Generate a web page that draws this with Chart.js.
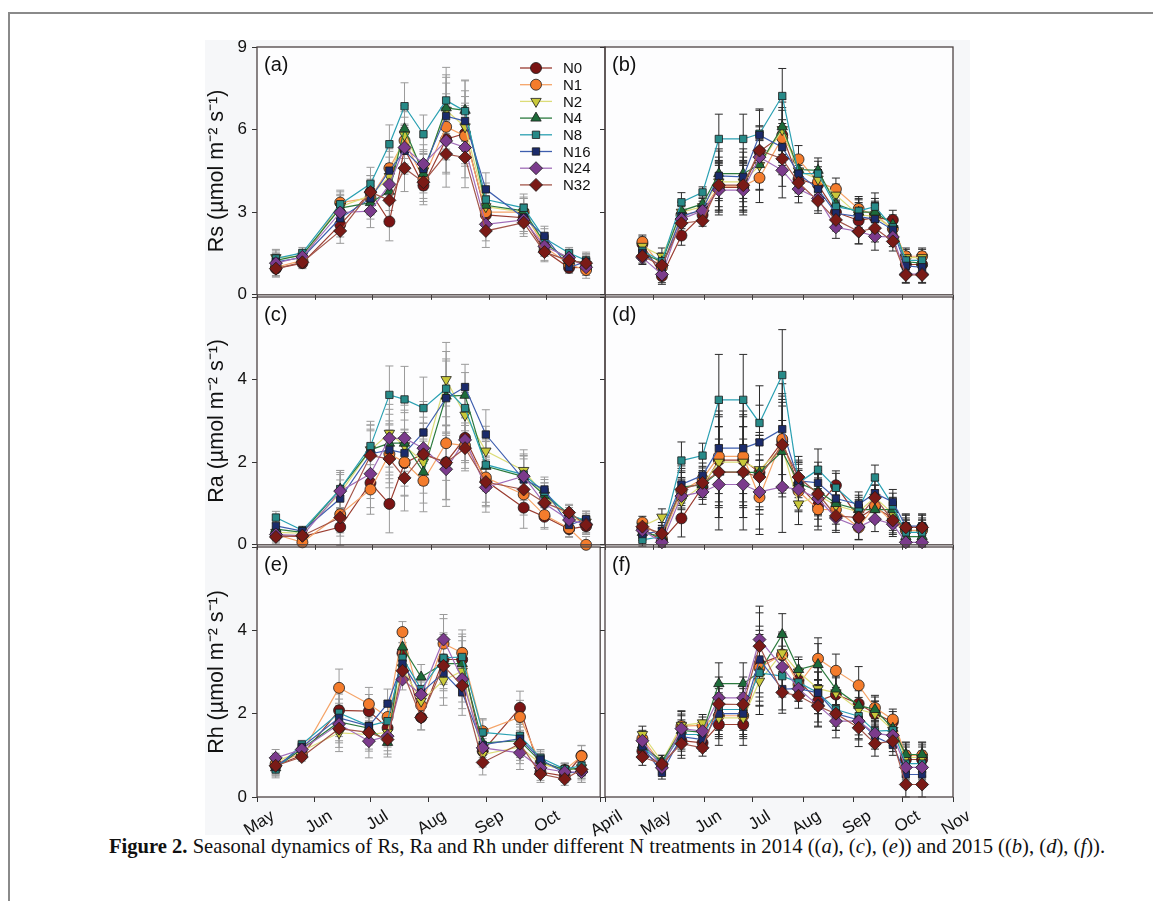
<!DOCTYPE html>
<html><head><meta charset="utf-8">
<script src="https://cdn.jsdelivr.net/npm/chart.js@4.4.1/dist/chart.umd.min.js"></script>
<style>
html,body{margin:0;padding:0;background:#fff;width:1153px;height:901px;overflow:hidden;position:relative;font-family:Arial,"Liberation Sans",sans-serif;}
#frame{position:absolute;left:8px;top:12px;width:1200px;height:1000px;border:2px solid #8a8a8a;box-sizing:border-box;}
#figbg{position:absolute;left:205px;top:40px;width:765px;height:795px;background:#f6f7f9;}
#plotbg{position:absolute;left:257px;top:47px;width:696px;height:750px;background:#fdfdfe;}
.pc{position:absolute;}
#caption{position:absolute;left:0;width:1214px;top:835px;text-align:center;font-family:"Liberation Serif","Times New Roman",serif;font-size:20.6px;color:#111;white-space:nowrap;}
</style></head>
<body>
<div id="frame"></div>
<div id="figbg"></div>
<div id="plotbg"></div>
<div id="caption"><b>Figure 2.</b> Seasonal dynamics of Rs, Ra and Rh under different N treatments in 2014 ((<i>a</i>), (<i>c</i>), (<i>e</i>)) and 2015 ((<i>b</i>), (<i>d</i>), (<i>f</i>)).</div>
<script>
// ---- x positions: day of year of each sampling ----
const dates2014 = [131,145,165,181,191,199,209,221,231,242,262,273,286,295];
const dates2015 = [114,126,138,151,161,176,186,200,210,222,233,247,257,268,276,286];
const monthStarts = [91,121,152,182,213,244,274,305];
const monthNames = ['April','May','Jun','Jul','Aug','Sep','Oct','Nov'];
const treatments = ['N0','N1','N2','N4','N8','N16','N24','N32'];

// ---- (a) Rs 2014 ----
const rsA_N0 = [0.95,1.15,2.55,3.73,2.66,5.3,3.97,5.65,5.86,2.9,2.8,1.6,0.98,1.0];
const rsA_N1 = [1.0,1.25,3.35,3.52,4.6,5.6,4.2,6.1,5.77,3.0,3.0,1.75,1.1,0.9];
const rsA_N2 = [1.35,1.4,3.2,3.6,4.3,5.8,4.5,6.7,6.1,3.2,3.0,1.85,1.3,1.1];
const rsA_N4 = [1.25,1.45,3.15,3.35,3.76,6.03,4.4,6.79,6.7,3.25,3.05,1.9,1.25,1.15];
const rsA_N8 = [1.32,1.52,3.29,4.03,5.47,6.85,5.83,7.06,6.67,3.46,3.16,2.05,1.52,1.25];
const rsA_N16 = [1.2,1.35,2.78,3.5,4.51,5.23,4.57,6.49,6.31,3.83,2.8,2.14,1.0,1.2];
const rsA_N24 = [1.15,1.38,2.99,3.04,4.01,5.35,4.75,5.59,5.35,2.56,2.72,1.76,1.35,1.0];
const rsA_N32 = [0.95,1.18,2.32,3.73,3.43,4.6,4.09,5.11,4.99,2.32,2.62,1.55,1.24,1.15];
const errA = [0.3,0.2,0.45,0.6,0.7,0.85,0.7,1.2,1.1,0.6,0.5,0.35,0.2,0.3];

// ---- (b) Rs 2015 ----
const rsB_N0 = [1.85,0.68,2.15,2.9,3.9,3.9,5.2,5.8,4.2,4.0,3.0,2.7,2.8,2.72,1.1,1.1];
const rsB_N1 = [1.92,1.0,2.9,3.05,3.95,3.95,4.25,5.7,4.92,4.1,3.84,3.12,2.9,2.4,1.4,1.4];
const rsB_N2 = [1.76,1.4,3.0,3.2,4.1,4.1,4.7,6.0,4.5,4.2,3.62,2.9,2.85,2.4,1.35,1.35];
const rsB_N4 = [1.5,1.2,3.05,3.3,4.4,4.4,4.73,6.1,4.55,4.52,3.3,3.0,3.0,2.55,1.2,1.15];
const rsB_N8 = [1.6,1.22,3.36,3.72,5.66,5.66,5.85,7.22,4.4,4.4,3.2,3.05,3.2,2.45,1.25,1.25];
const rsB_N16 = [1.52,1.0,2.85,3.1,4.32,4.28,5.8,5.36,4.4,3.84,2.96,2.84,2.75,2.36,1.05,1.0];
const rsB_N24 = [1.35,0.74,2.75,3.05,3.8,3.8,5.0,4.52,3.84,3.5,2.45,2.3,2.12,2.1,0.75,0.75];
const rsB_N32 = [1.4,1.07,2.6,2.69,3.98,3.98,5.24,4.94,4.07,3.41,2.72,2.3,2.42,1.94,0.72,0.72];
const errB = [0.25,0.3,0.35,0.2,0.9,0.9,0.9,1.0,0.5,0.45,0.4,0.45,0.5,0.35,0.3,0.3];

// ---- (c) Ra 2014 ----
const raC_N0 = [0.22,0.2,0.43,1.5,0.99,1.98,2.2,2.0,2.59,1.55,0.9,0.68,0.38,0.45];
const raC_N1 = [0.25,0.06,0.74,1.34,2.2,2.0,1.55,2.46,2.4,1.63,1.22,0.72,0.4,0.0];
const raC_N2 = [0.3,0.28,1.25,2.3,2.7,2.4,2.0,4.0,3.14,2.27,1.8,1.2,0.65,0.55];
const raC_N4 = [0.38,0.3,1.35,2.3,2.46,2.46,1.76,3.6,3.62,1.9,1.65,1.2,0.75,0.55];
const raC_N8 = [0.66,0.35,1.35,2.39,3.63,3.52,3.31,3.78,3.31,1.94,1.7,1.28,0.7,0.6];
const raC_N16 = [0.46,0.33,1.12,2.2,2.3,2.22,2.72,3.55,3.82,2.67,1.58,1.34,0.48,0.62];
const raC_N24 = [0.25,0.22,1.3,1.72,2.58,2.58,2.34,1.83,2.54,1.39,1.66,1.0,0.6,0.5];
const raC_N32 = [0.19,0.22,0.66,2.16,2.08,1.62,2.19,1.99,2.34,1.52,1.34,1.02,0.78,0.48];
const errC = [0.15,0.1,0.45,0.6,0.7,0.8,0.75,0.9,0.55,0.6,0.5,0.3,0.2,0.2];

// ---- (d) Ra 2015 ----
const raD_N0 = [0.4,0.1,0.64,1.4,2.05,2.05,1.75,2.5,1.45,0.95,1.44,0.65,0.9,0.65,0.42,0.42];
const raD_N1 = [0.54,0.15,1.3,1.6,2.14,2.14,1.15,2.56,1.3,0.86,0.85,0.42,0.95,0.55,0.35,0.35];
const raD_N2 = [0.45,0.67,1.06,1.45,2.0,2.0,1.82,2.35,0.99,1.2,0.95,0.8,1.15,0.75,0.3,0.3];
const raD_N4 = [0.3,0.2,1.4,1.45,1.76,1.76,1.75,2.26,1.5,1.3,1.0,0.85,0.85,0.85,0.2,0.2];
const raD_N8 = [0.12,0.2,2.04,2.16,3.51,3.51,2.95,4.11,1.5,1.82,1.38,0.9,1.63,0.95,0.3,0.3];
const raD_N16 = [0.26,0.34,1.46,1.68,2.34,2.34,2.48,2.8,1.55,1.5,1.12,0.98,1.25,1.04,0.45,0.45];
const raD_N24 = [0.35,0.06,1.18,1.28,1.46,1.46,1.28,1.4,1.34,1.12,0.65,0.43,0.62,0.5,0.06,0.06];
const raD_N32 = [0.44,0.27,1.34,1.5,1.76,1.76,1.64,2.42,1.64,1.23,0.7,0.66,1.14,0.59,0.42,0.42];
const errD = [0.15,0.2,0.45,0.3,1.1,1.1,0.9,1.1,0.5,0.5,0.35,0.3,0.3,0.3,0.3,0.3];

// ---- (e) Rh 2014 ----
const rhE_N0 = [0.75,1.0,2.08,2.06,1.66,3.45,1.91,3.3,3.3,1.1,2.14,0.6,0.5,0.99];
const rhE_N1 = [0.8,1.05,2.62,2.23,1.92,3.96,2.2,3.68,3.46,1.58,1.92,0.8,0.65,0.98];
const rhE_N2 = [0.85,1.1,1.54,1.5,1.55,3.1,2.3,2.8,3.02,1.02,1.2,0.8,0.65,0.7];
const rhE_N4 = [0.7,1.15,1.8,1.65,1.31,3.6,2.88,3.2,3.2,1.3,1.35,0.85,0.65,0.7];
const rhE_N8 = [0.66,1.26,2.02,1.71,1.82,3.34,2.59,3.34,3.36,1.55,1.47,0.94,0.67,0.75];
const rhE_N16 = [0.72,1.2,1.9,1.7,2.24,3.2,2.5,2.98,2.51,1.25,1.4,0.9,0.58,0.6];
const rhE_N24 = [0.94,1.14,1.75,1.34,1.46,2.82,2.46,3.78,2.83,1.18,1.06,0.7,0.6,0.6];
const rhE_N32 = [0.75,0.96,1.64,1.55,1.38,3.03,1.91,3.15,2.67,0.83,1.28,0.55,0.43,0.66];
const errE = [0.2,0.1,0.45,0.4,0.35,0.25,0.3,0.6,0.55,0.3,0.4,0.2,0.15,0.25];

// ---- (f) Rh 2015 ----
const rhF_N0 = [1.1,0.75,1.35,1.3,1.74,1.74,3.2,3.4,2.8,2.3,2.46,2.24,2.0,1.8,0.9,0.9];
const rhF_N1 = [1.4,0.78,1.7,1.72,1.95,1.95,3.1,3.42,2.7,3.32,3.03,2.68,2.14,1.86,1.0,1.0];
const rhF_N2 = [1.5,0.85,1.72,1.78,1.9,1.9,2.78,3.46,3.0,2.6,2.5,2.1,2.0,1.6,0.95,0.95];
const rhF_N4 = [1.25,0.85,1.6,1.55,2.72,2.72,3.0,3.9,3.06,3.18,2.59,2.2,2.1,1.65,1.02,1.02];
const rhF_N8 = [1.2,0.8,1.5,1.5,2.1,2.1,2.98,2.9,2.75,2.5,2.1,1.94,1.58,1.6,0.8,0.8];
const rhF_N16 = [1.22,0.58,1.45,1.38,2.0,2.0,3.3,2.59,2.6,2.5,2.0,1.85,1.45,1.25,0.54,0.54];
const rhF_N24 = [1.35,0.7,1.64,1.58,2.38,2.38,3.78,3.12,2.6,2.2,1.82,1.82,1.52,1.48,0.71,0.71];
const rhF_N32 = [0.96,0.79,1.28,1.18,2.23,2.22,3.62,2.51,2.43,2.18,2.0,1.66,1.28,1.34,0.3,0.3];
const errF = [0.2,0.15,0.35,0.2,0.5,0.5,0.8,0.5,0.3,0.5,0.4,0.45,0.3,0.25,0.3,0.3];

// ---- styles ----
const markerColors = ['#7a1414','#f47c2c','#c9c83a','#1d6b3a','#278a88','#1b2b6b','#7b3b8c','#7a1a16'];
const lineColors   = ['#9a3c30','#f5a468','#dcdc78','#2b7a3e','#2aa0b2','#3e5eae','#a06cb8','#a3564a'];
const pointStyles  = ['circle','circle','triangle','triangle','rect','rect','rectRot','rectRot'];
const pointRots    = [0,0,180,0,0,0,0,0];
const pointRadii   = [5.5,5.5,6,6,5.2,5.2,6.5,6.5];

const panels = [
  {id:'a', col:0, row:0, x:dates2014, series:[rsA_N0,rsA_N1,rsA_N2,rsA_N4,rsA_N8,rsA_N16,rsA_N24,rsA_N32], err:errA, yMax:9, yStep:3, title:'Rs (µmol m⁻² s⁻¹)', legend:true},
  {id:'b', col:1, row:0, x:dates2015, series:[rsB_N0,rsB_N1,rsB_N2,rsB_N4,rsB_N8,rsB_N16,rsB_N24,rsB_N32], err:errB, yMax:9, yStep:3},
  {id:'c', col:0, row:1, x:dates2014, series:[raC_N0,raC_N1,raC_N2,raC_N4,raC_N8,raC_N16,raC_N24,raC_N32], err:errC, yMax:6, yStep:2, title:'Ra (µmol m⁻² s⁻¹)'},
  {id:'d', col:1, row:1, x:dates2015, series:[raD_N0,raD_N1,raD_N2,raD_N4,raD_N8,raD_N16,raD_N24,raD_N32], err:errD, yMax:6, yStep:2},
  {id:'e', col:0, row:2, x:dates2014, series:[rhE_N0,rhE_N1,rhE_N2,rhE_N4,rhE_N8,rhE_N16,rhE_N24,rhE_N32], err:errE, yMax:6, yStep:2, title:'Rh (µmol m⁻² s⁻¹)'},
  {id:'f', col:1, row:2, x:dates2015, series:[rhF_N0,rhF_N1,rhF_N2,rhF_N4,rhF_N8,rhF_N16,rhF_N24,rhF_N32], err:errF, yMax:6, yStep:2}
];

const colGeo = [
  {left:198, width:417, yW:59, padR:10, xMin:121, xMax:305, errColor:'#9a9a9a'},
  {left:555, width:420, yW:50, padR:22, xMin:91,  xMax:305, errColor:'#2b2b2b'}
];
const rowGeo = [
  {top:30,  height:280, xH:13, labels:false},
  {top:280, height:280, xH:13, labels:false},
  {top:530, height:320, xH:53, labels:true}
];

function drawMarker(ctx, k, x, y){
  ctx.save();
  ctx.fillStyle = markerColors[k];
  ctx.strokeStyle = '#1a1a1a';
  ctx.lineWidth = 0.8;
  if (Chart.helpers && Chart.helpers.drawPoint) {
    Chart.helpers.drawPoint(ctx, {pointStyle:pointStyles[k], rotation:pointRots[k], radius:pointRadii[k], borderWidth:0.8}, x, y);
  } else {
    ctx.beginPath(); ctx.arc(x,y,pointRadii[k],0,Math.PI*2); ctx.fill(); ctx.stroke();
  }
  ctx.restore();
}

const errorBarPlugin = {
  id:'errorBars',
  beforeDatasetsDraw(chart){
    const ctx = chart.ctx, ca = chart.chartArea;
    const xs = chart.scales.x, ys = chart.scales.y;
    const color = chart.options.plugins.errorBars.color;
    ctx.save();
    ctx.beginPath(); ctx.rect(ca.left, ca.top-30, ca.right-ca.left, ca.bottom-ca.top+40); ctx.clip();
    ctx.strokeStyle = color; ctx.lineWidth = 1;
    chart.data.datasets.forEach(ds => {
      const err = ds.errors;
      ds.data.forEach((p,i) => {
        const px = xs.getPixelForValue(p.x);
        const y1 = ys.getPixelForValue(p.y + err[i]);
        const y2 = ys.getPixelForValue(Math.max(p.y - err[i], ys.min - 0.05));
        ctx.beginPath();
        ctx.moveTo(px, y1); ctx.lineTo(px, y2);
        ctx.moveTo(px-4, y1); ctx.lineTo(px+4, y1);
        ctx.moveTo(px-4, y2); ctx.lineTo(px+4, y2);
        ctx.stroke();
      });
    });
    ctx.restore();
  }
};

const framePlugin = {
  id:'panelFrame',
  afterDraw(chart){
    const ctx = chart.ctx, ca = chart.chartArea;
    const opts = chart.options.plugins.panelFrame;
    ctx.save();
    ctx.strokeStyle = '#4d4444'; ctx.lineWidth = 1.3;
    ctx.strokeRect(ca.left, ca.top, ca.right-ca.left, ca.bottom-ca.top);
    ctx.fillStyle = '#111';
    ctx.font = '20px Arial, "Liberation Sans", sans-serif';
    ctx.textBaseline = 'middle'; ctx.textAlign = 'left';
    ctx.fillText('(' + opts.label + ')', ca.left + 7, ca.top + 18);
    if (opts.legend) {
      const offX = opts.offX, offY = opts.offY;
      chart.data.datasets.forEach((ds,k) => {
        const y = 68 + k*16.7 - offY;
        ctx.strokeStyle = lineColors[k]; ctx.lineWidth = 1.3;
        ctx.beginPath(); ctx.moveTo(520-offX, y); ctx.lineTo(552-offX, y); ctx.stroke();
        drawMarker(ctx, k, 536-offX, y);
        ctx.fillStyle = '#111';
        ctx.font = '15px Arial, "Liberation Sans", sans-serif';
        ctx.textAlign = 'left'; ctx.textBaseline = 'middle';
        ctx.fillText(ds.label, 563-offX, y + 1);
      });
    }
    ctx.restore();
  }
};

panels.forEach(p => {
  const cg = colGeo[p.col], rg = rowGeo[p.row];
  const wrap = document.createElement('div');
  wrap.className = 'pc';
  wrap.style.left = cg.left + 'px'; wrap.style.top = rg.top + 'px';
  wrap.style.width = cg.width + 'px'; wrap.style.height = rg.height + 'px';
  const cv = document.createElement('canvas');
  cv.width = cg.width; cv.height = rg.height;
  cv.style.width = cg.width + 'px'; cv.style.height = rg.height + 'px';
  wrap.appendChild(cv);
  document.body.appendChild(wrap);

  const datasets = p.series.map((vals,k) => ({
    label: treatments[k],
    data: p.x.map((d,i) => ({x:d, y:vals[i]})),
    errors: p.err,
    borderColor: lineColors[k],
    backgroundColor: markerColors[k],
    pointBackgroundColor: markerColors[k],
    pointBorderColor: '#1a1a1a',
    pointBorderWidth: 0.8,
    pointStyle: pointStyles[k],
    pointRotation: pointRots[k],
    pointRadius: pointRadii[k],
    borderWidth: 1.2,
    tension: 0,
    order: 7 - k,
    clip: 9
  }));

  const yTicks = [];
  for (let v = 0; v <= p.yMax + 1e-9; v += p.yStep) yTicks.push(v);

  new Chart(cv, {
    type: 'line',
    data: {datasets},
    plugins: [errorBarPlugin, framePlugin],
    options: {
      responsive: false,
      animation: false,
      events: [],
      layout: {autoPadding: false, padding: {top: 17, right: cg.padR, left: 0, bottom: 0}},
      plugins: {
        legend: {display: false},
        tooltip: {enabled: false},
        errorBars: {color: cg.errColor},
        panelFrame: {label: p.id, legend: !!p.legend, offX: cg.left, offY: rg.top}
      },
      scales: {
        x: {
          type: 'linear',
          min: cg.xMin, max: cg.xMax,
          afterBuildTicks: s => { s.ticks = monthStarts.filter(v => v >= cg.xMin && v <= cg.xMax).map(v => ({value: v})); },
          afterFit: s => { s.height = rg.xH; },
          border: {display: false},
          grid: {drawOnChartArea: false, drawTicks: true, tickLength: 5, color: '#333', lineWidth: 1},
          ticks: {
            display: rg.labels,
            autoSkip: false,
            minRotation: 32, maxRotation: 32,
            labelOffset: 16,
            padding: 4,
            color: '#111',
            font: {family: 'Arial, "Liberation Sans", sans-serif', size: 17},
            callback: v => {
              const idx = monthStarts.indexOf(v);
              if (idx < 0) return '';
              if (p.col === 0 && v === 305) return '';
              return monthNames[idx];
            }
          }
        },
        y: {
          type: 'linear',
          min: 0, max: p.yMax,
          afterBuildTicks: s => { s.ticks = yTicks.map(v => ({value: v})); },
          afterFit: s => { s.width = cg.yW; },
          border: {display: false},
          grid: {drawOnChartArea: false, drawTicks: true, tickLength: 5, color: '#333', lineWidth: 1},
          ticks: {
            padding: 5,
            color: '#111',
            font: {family: 'Arial, "Liberation Sans", sans-serif', size: 17},
            callback: v => {
              if (p.col === 1) return '';
              if (p.row > 0 && v === p.yMax) return '';
              return String(v);
            }
          },
          title: {
            display: !!p.title,
            text: p.title || '',
            color: '#111',
            padding: {top: 6, bottom: 0},
            font: {family: 'Arial, "Liberation Sans", sans-serif', size: 21.5}
          }
        }
      }
    }
  });
});
</script>
</body></html>
